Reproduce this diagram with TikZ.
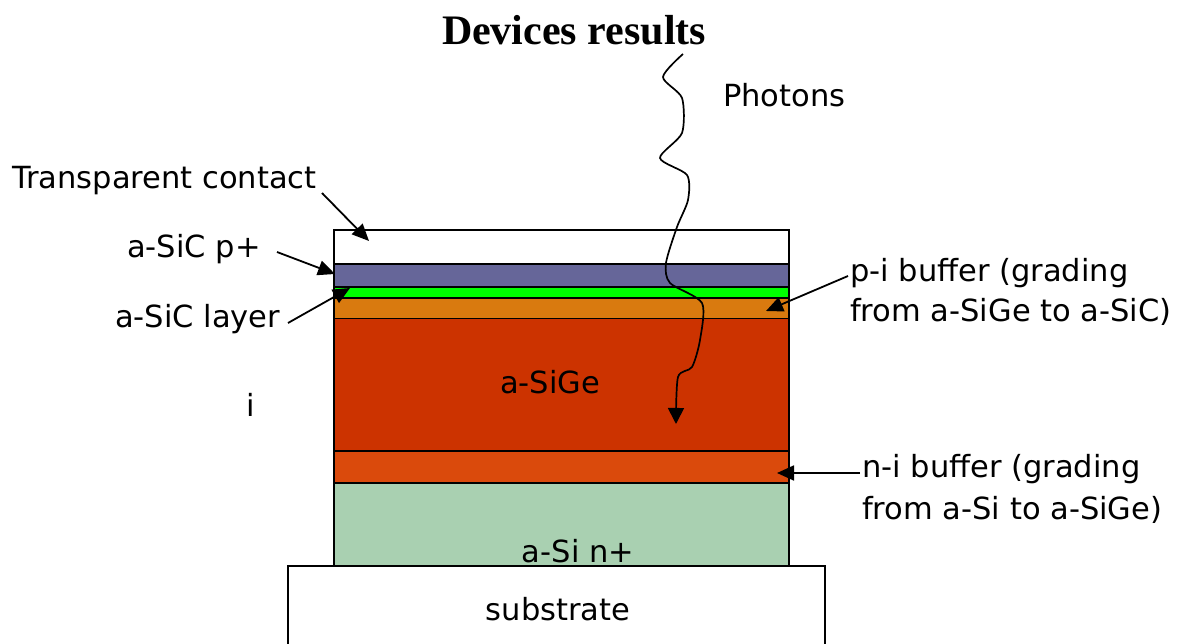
\documentclass[tikz,border=0pt]{standalone}
\usepackage{fontspec}
\setmainfont{DejaVu Sans}
\newfontfamily\titlefont{Liberation Serif}
\usetikzlibrary{arrows.meta}
\definecolor{cPplus}{HTML}{666699}
\definecolor{cGreen}{HTML}{00FF00}
\definecolor{cPib}{HTML}{D97A0F}
\definecolor{cSiGe}{HTML}{CC3300}
\definecolor{cNib}{HTML}{DA4A0C}
\definecolor{cNplus}{HTML}{A9D0B1}
\begin{document}
\begin{tikzpicture}[x=1pt,y=-1pt,
  layer/.style={draw=black, line width=1.8pt, minimum width=455pt, inner sep=0pt, outer sep=0pt},
  lbl/.style={font=\fontsize{30.5}{36}\selectfont, inner sep=0pt, anchor=base west},
  clbl/.style={font=\fontsize{30.5}{36}\selectfont, inner sep=0pt, anchor=base},
  ptr/.style={line width=1.8pt, -{Triangle[length=17pt,width=15pt]}}]
\useasboundingbox (0,0) rectangle (1179,644);
% layers
\node[layer, fill=white,  minimum height=34pt]   (tc)   at (561.5,247) {};
\node[layer, fill=cPplus, minimum height=23pt]   (pp)   at (561.5,275.5) {};
\node[layer, fill=cGreen, minimum height=11pt]   (sic)  at (561.5,292.5) {};
\node[layer, fill=cPib,   minimum height=20.5pt] (pib)  at (561.5,308.25) {};
\node[layer, fill=cSiGe,  minimum height=132.5pt](sige) at (561.5,384.75) {};
\node[layer, fill=cNib,   minimum height=32pt]   (nib)  at (561.5,467) {};
\node[layer, fill=cNplus, minimum height=83pt]   (np)   at (561.5,524.5) {};
\node[layer, fill=white,  minimum width=537pt, minimum height=134pt] (sub) at (556.5,633) {};
% texts
\node[font=\titlefont\bfseries\fontsize{42}{48}\selectfont, inner sep=0pt, anchor=base] (title) at (574,45) {Devices results};
\node[lbl] (photons) at (723,107) {Photons};
\node[lbl] (tcl) at (12,189) {Transparent contact};
\node[lbl] (ppl) at (127,258) {a-SiC p+};
\node[lbl] (sicl) at (115,328) {a-SiC layer};
\node[lbl] (il) at (246,417) {i};
\node[clbl] (sigel) at (550,394) {a-SiGe};
\node[lbl] (pibl1) at (850,282) {p-i buffer (grading};
\node[lbl] (pibl2) at (850,322) {from a-SiGe to a-SiC)};
\node[lbl] (nibl1) at (862,478) {n-i buffer (grading};
\node[lbl] (nibl2) at (862,519) {from a-Si to a-SiGe)};
\node[clbl] (npl) at (578,562) {a-Si n+};
\node[clbl] (subl) at (558,620) {substrate};
% pointer ends
\coordinate (tcA) at (322,193);  \coordinate (tcB) at (369,241);
\coordinate (ppA) at (277,252);  \coordinate (ppB) at (335,274);
\coordinate (sicA) at (288,323); \coordinate (sicB) at (350,288);
\coordinate (pibA) at (848,276); \coordinate (pibB) at (766,311);
\coordinate (nibA) at (860,473); \coordinate (nibB) at (777,473);
\draw[ptr] (tcA) -- (tcB);
\draw[ptr] (ppA) -- (ppB);
\draw[ptr] (sicA) -- (sicB);
\draw[ptr] (pibA) -- (pibB);
\draw[ptr] (nibA) -- (nibB);
% photon path
\coordinate (ph0) at (683,54);
\coordinate (ph1) at (663,77);
\coordinate (ph2) at (682,98);
\coordinate (ph3) at (682,133);
\coordinate (ph4) at (660,158);
\coordinate (ph5) at (687,175);
\coordinate (ph6) at (688,200);
\coordinate (ph7) at (677,227);
\coordinate (ph8) at (666,263);
\coordinate (ph9) at (670,283);
\coordinate (ph10) at (702,303);
\coordinate (ph11) at (700,340);
\coordinate (ph12) at (692,367);
\coordinate (ph13) at (678,377);
\coordinate (ph14) at (676,424);
\draw[line width=1.7pt, -{Triangle[length=16pt,width=16pt]}]
  plot[smooth, tension=0.45] coordinates {(ph0) (ph1) (ph2) (ph3) (ph4) (ph5) (ph6) (ph7) (ph8) (ph9) (ph10) (ph11) (ph12) (ph13) (ph14)};
\end{tikzpicture}
\end{document}
